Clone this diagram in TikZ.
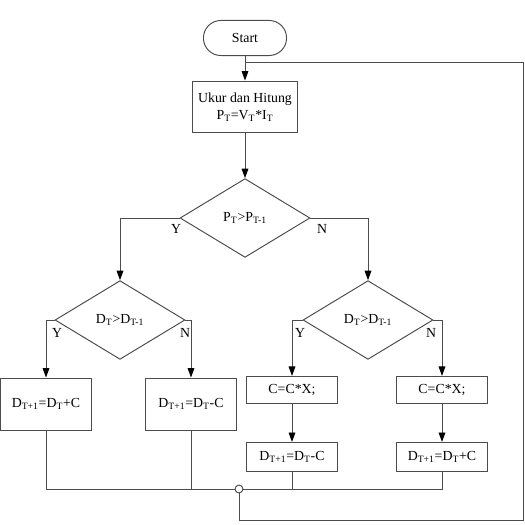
\documentclass[tikz,border=0pt]{standalone}
\usepackage{fontspec}
\setmainfont{Liberation Serif}
\usetikzlibrary{shapes.geometric}
\usetikzlibrary{arrows.meta}

\begin{document}
\begin{tikzpicture}[x=0.254mm, y=-0.254mm,
    line/.style={draw=black!70, line width=0.7pt},
    arr/.style={line, -{Triangle[length=2.4mm, width=1.7mm, color=black]}},
    terminal/.style={line, rounded corners=4.4mm, minimum width=21.1mm, minimum height=8.9mm},
    process/.style={line, minimum width=23mm, inner sep=2pt},
    decision/.style={line, diamond, minimum width=33mm, minimum height=20mm, inner sep=0pt},
    lbl/.style={inner sep=0pt}]
    \useasboundingbox (0,0) rectangle (525,525);

    \node[terminal] (start) at (245,38) {Start};
    \node[process, minimum width=26.9mm, minimum height=13.2mm, align=center] (ukur) at (245,107)
        {Ukur dan Hitung\\P\textsubscript{T}=V\textsubscript{T}*I\textsubscript{T}};

    \node[decision] (cekp) at (245,218) {P\textsubscript{T}>P\textsubscript{T-1}};
    \node[decision] (cekd1) at (120,320) {D\textsubscript{T}>D\textsubscript{T-1}};
    \node[decision] (cekd2) at (368,320) {D\textsubscript{T}>D\textsubscript{T-1}};

    \node[process, minimum height=13.2mm] (naik1) at (46,404) {D\textsubscript{T+1}=D\textsubscript{T}+C};
    \node[process, minimum height=13.2mm] (turun1) at (191,404) {D\textsubscript{T+1}=D\textsubscript{T}-C};
    \node[process, minimum height=6.9mm] (kali1) at (292,390) {C=C*X;};
    \node[process, minimum height=6.9mm] (kali2) at (442,390) {C=C*X;};
    \node[process, minimum height=7.4mm] (turun2) at (292,457) {D\textsubscript{T+1}=D\textsubscript{T}-C};
    \node[process, minimum height=7.4mm] (naik2) at (442,457) {D\textsubscript{T+1}=D\textsubscript{T}+C};

    \node[lbl] (y1) at (176,229) {Y};
    \node[lbl] (n1) at (322,229) {N};
    \node[lbl] (y2) at (57,333) {Y};
    \node[lbl] (n2) at (185,333) {N};
    \node[lbl] (y3) at (300,333) {Y};
    \node[lbl] (n3) at (431,333) {N};

    \node[line, circle, fill=white, minimum size=2mm, inner sep=0pt] (gabung) at (239,489) {};
    \coordinate (balik) at (523,520);
    \coordinate (masuk) at (245,62);

    \draw[arr] (start) -- (ukur);
    \draw[arr] (ukur) -- (cekp);
    \draw[arr] (cekp.west) -| (cekd1.north);
    \draw[arr] (cekp.east) -| (cekd2.north);
    \draw[arr] (cekd1.west) -| (naik1.north);
    \draw[arr] (cekd1.east) -| (turun1.north);
    \draw[arr] (cekd2.west) -| (kali1.north);
    \draw[arr] (cekd2.east) -| (kali2.north);
    \draw[arr] (kali1) -- (turun2);
    \draw[arr] (kali2) -- (naik2);

    \draw[line] (naik1.south) |- (gabung.west);
    \draw[line] (turun1.south) -- (turun1.south |- gabung);
    \draw[line] (naik2.south) |- (gabung.east);
    \draw[line] (turun2.south) -- (turun2.south |- gabung);
    \draw[line] (gabung.south) |- (balik) |- (masuk);
\end{tikzpicture}
\end{document}
